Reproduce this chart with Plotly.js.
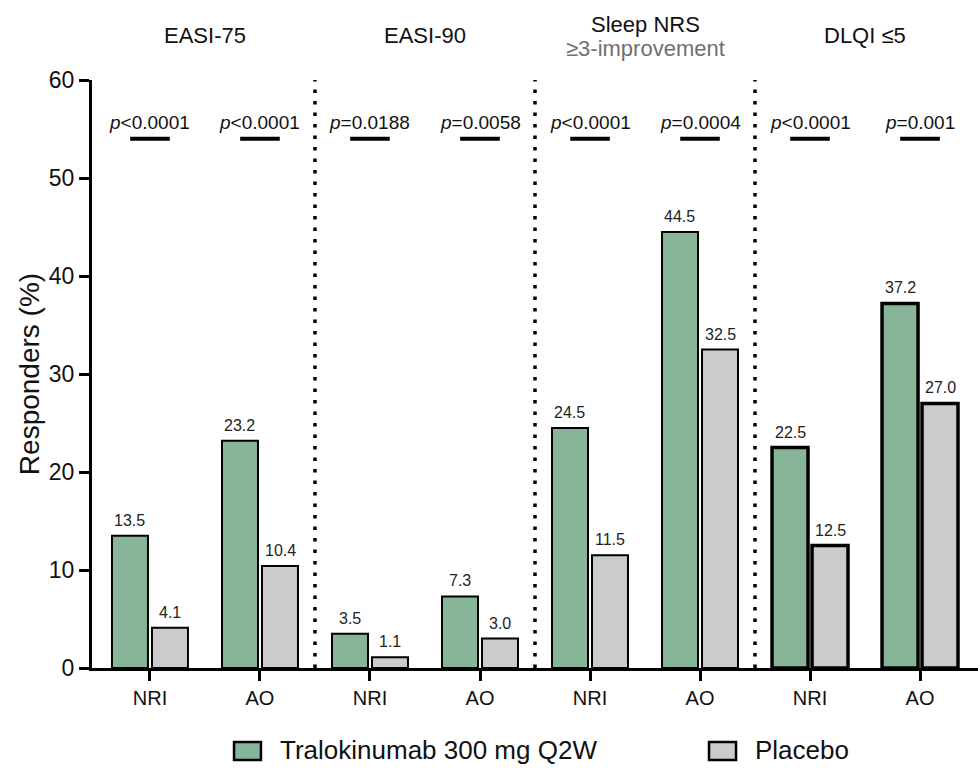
<!DOCTYPE html>
<html>
<head>
<meta charset="utf-8">
<script src="https://cdn.plot.ly/plotly-3.0.1.min.js"></script>
<style>html,body{margin:0;padding:0;background:#fff;}#chart{width:978px;height:769px;}</style>
</head>
<body>
<div id="chart"></div>
<script>
// ---- data ----
var endpoints = ["EASI-75", "EASI-90", "Sleep NRS", "DLQI \u22645"];
var endpointSubtitles = ["", "", "\u22653-improvement", ""];
var methods = ["NRI", "AO", "NRI", "AO", "NRI", "AO", "NRI", "AO"];
var seriesNames = ["Tralokinumab 300 mg Q2W", "Placebo"];
var tralokinumab = [13.5, 23.2, 3.5, 7.3, 24.5, 44.5, 22.5, 37.2];
var placebo = [4.1, 10.4, 1.1, 3.0, 11.5, 32.5, 12.5, 27.0];
var pValues = ["&lt;0.0001", "&lt;0.0001", "=0.0188", "=0.0058", "&lt;0.0001", "=0.0004", "&lt;0.0001", "=0.001"];

// ---- style ----
var FONT = "Liberation Sans, Arial, Helvetica, sans-serif";
var NARROW = "Liberation Sans Narrow, Arial Narrow, Liberation Sans, Arial, sans-serif";
var colors = ["#86b598", "#cbcbcb"];
var idx = methods.map(function (_, i) { return i; });
var lineW = idx.map(function (i) { return i >= 6 ? 3.5 : 2; });
var barOffset = 0.182;

var traces = [tralokinumab, placebo].map(function (vals, s) {
  return {
    type: "bar",
    x: idx,
    y: vals,
    name: seriesNames[s],
    marker: { color: colors[s], line: { color: "#000", width: lineW } },
    showlegend: false,
    hoverinfo: "x+y+name"
  };
});

var annotations = [];
var shapes = [];

// value labels
[tralokinumab, placebo].forEach(function (vals, s) {
  vals.forEach(function (v, i) {
    annotations.push({
      x: i + (s === 0 ? -barOffset : barOffset), y: v, xref: "x", yref: "y",
      text: v.toFixed(1), showarrow: false, yanchor: "bottom", yshift: 5,
      font: { family: NARROW, size: 16, color: "#222" }
    });
  });
});

// p-values and bars
var pTextLevel = 55.7, pLineLevel = 54;
pValues.forEach(function (p, i) {
  annotations.push({
    x: i, y: pTextLevel, xref: "x", yref: "y",
    text: "<i>p</i>" + p, showarrow: false, yanchor: "middle",
    font: { family: FONT, size: 19, color: "#111" }
  });
  shapes.push({
    type: "line", xref: "x", yref: "y",
    x0: i - 0.18, x1: i + 0.18, y0: pLineLevel, y1: pLineLevel,
    line: { color: "#000", width: 4 }
  });
});

// endpoint titles
endpoints.forEach(function (e, g) {
  var hasSub = endpointSubtitles[g] !== "";
  annotations.push({
    x: 2 * g + 0.5, y: hasSub ? 1.095 : 1.0765, xref: "x", yref: "paper",
    text: e, showarrow: false, yanchor: "middle",
    font: { family: FONT, size: 22, color: "#111" }
  });
  if (hasSub) {
    annotations.push({
      x: 2 * g + 0.5, y: 1.054, xref: "x", yref: "paper",
      text: endpointSubtitles[g], showarrow: false, yanchor: "middle",
      font: { family: FONT, size: 22, color: "#707070" }
    });
  }
});

// dotted dividers between endpoints
for (var g = 0; g < endpoints.length - 1; g++) {
  shapes.push({
    type: "line", xref: "x", yref: "y",
    x0: 2 * g + 1.5, x1: 2 * g + 1.5, y0: 0, y1: 60,
    line: { color: "#000", width: 3.5, dash: "3.5px,8px" }
  });
}

// manual legend
var legendBoxes = [[0.1603, 0.1907], [0.6964, 0.7269]];
var legendTextX = [0.2099, 0.7460];
seriesNames.forEach(function (n, s) {
  shapes.push({
    type: "rect", xref: "paper", yref: "paper",
    x0: legendBoxes[s][0], x1: legendBoxes[s][1], y0: -0.1565, y1: -0.1259,
    fillcolor: colors[s], line: { color: "#000", width: 2.5 }
  });
  annotations.push({
    x: legendTextX[s], y: -0.1395, xref: "paper", yref: "paper",
    text: n, showarrow: false, xanchor: "left", yanchor: "middle",
    font: { family: FONT, size: 26, color: "#111" }
  });
});

var layout = {
  width: 978, height: 769,
  margin: { l: 92, r: 0, t: 80, b: 101 },
  paper_bgcolor: "#fff", plot_bgcolor: "#fff",
  font: { family: FONT, color: "#111" },
  barmode: "group", bargap: 0.273, bargroupgap: 0.1,
  xaxis: {
    range: [-0.527, 7.527], tickvals: idx, ticktext: methods,
    showline: true, linecolor: "#000", linewidth: 3,
    ticks: "outside", ticklen: 10, tickwidth: 3, tickcolor: "#000",
    showgrid: false, zeroline: false, fixedrange: true,
    tickfont: { family: FONT, size: 20, color: "#111" }
  },
  yaxis: {
    range: [0, 60], dtick: 10, tick0: 0,
    showline: true, linecolor: "#000", linewidth: 3,
    ticks: "outside", ticklen: 10, tickwidth: 3, tickcolor: "#000",
    showgrid: false, zeroline: false, fixedrange: true,
    tickfont: { family: FONT, size: 23, color: "#111" },
    title: { text: "Responders (%)", font: { family: FONT, size: 28, color: "#111" }, standoff: 2 }
  },
  annotations: annotations,
  shapes: shapes,
  showlegend: false
};

Plotly.newPlot("chart", traces, layout, { displayModeBar: false, staticPlot: true });
</script>
</body>
</html>
